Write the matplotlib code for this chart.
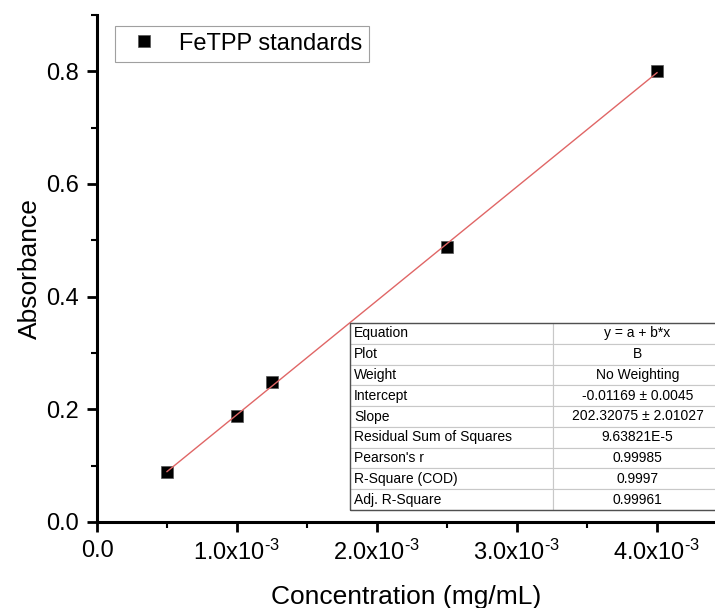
import matplotlib
matplotlib.use("Agg")
from matplotlib import pyplot as plt
from matplotlib.ticker import MultipleLocator, FuncFormatter
from matplotlib.patches import Rectangle
import numpy as np

plt.rcParams['font.family'] = ['Liberation Sans', 'DejaVu Sans']
plt.rcParams['mathtext.fontset'] = 'custom'
plt.rcParams['mathtext.rm'] = 'Liberation Sans'

# standards
conc = [0.5e-3, 1.0e-3, 1.25e-3, 2.5e-3, 4.0e-3]
absorb = [0.089, 0.188, 0.249, 0.489, 0.800]

# linear fit result
intercept = -0.01169
slope = 202.32075

fit_rows = ["Equation", "Plot", "Weight", "Intercept", "Slope",
            "Residual Sum of Squares", "Pearson's r", "R-Square (COD)",
            "Adj. R-Square"]
fit_vals = ["y = a + b*x", "B", "No Weighting", "-0.01169 \u00b1 0.0045",
            "202.32075 \u00b1 2.01027", "9.63821E-5", "0.99985", "0.9997",
            "0.99961"]


def fmt_x(v, pos):
    if abs(v) < 1e-12:
        return "0.0"
    return r"$\mathregular{%.1fx10^{\text{-}3}}$" % (v * 1e3)


fig = plt.figure(figsize=(7.15, 6.08), dpi=100)
ax = fig.add_axes([97 / 715, 1 - 522 / 608, 618 / 715, 507 / 608])

xf = np.array([conc[0], conc[-1]])
ax.plot(xf, intercept + slope * xf, color='#e06666', lw=1.0, zorder=3)
ax.plot(conc, absorb, 's', color='black', markersize=8.5,
        markeredgecolor='#555555', markeredgewidth=0.5,
        label='FeTPP standards', zorder=2)

ax.set_xlim(0, 618 / 140 * 1e-3)
ax.set_ylim(0, 0.9)
ax.xaxis.set_major_locator(MultipleLocator(1e-3))
ax.xaxis.set_minor_locator(MultipleLocator(0.5e-3))
ax.yaxis.set_major_locator(MultipleLocator(0.2))
ax.yaxis.set_minor_locator(MultipleLocator(0.1))
ax.xaxis.set_major_formatter(FuncFormatter(fmt_x))
ax.yaxis.set_major_formatter(FuncFormatter(lambda v, p: "%.1f" % v))

for s in ['top', 'right']:
    ax.spines[s].set_visible(False)
for s in ['left', 'bottom']:
    ax.spines[s].set_linewidth(2.2)
ax.tick_params(which='major', length=7, width=2, labelsize=17, direction='out', pad=6)
ax.tick_params(which='minor', length=4, width=1.5, direction='out')

ax.set_xlabel('Concentration (mg/mL)', fontsize=19, labelpad=14)
ax.set_ylabel('Absorbance', fontsize=19, labelpad=3)

leg = ax.legend(loc='upper left', bbox_to_anchor=(0.029, 0.979), fontsize=17,
                frameon=True, fancybox=False, edgecolor='#888888',
                handletextpad=0.5, borderpad=0.3, handlelength=1.9,
                borderaxespad=0)
leg.get_frame().set_linewidth(0.8)

cells = [[r, v] for r, v in zip(fit_rows, fit_vals)]
tb = ax.table(cellText=cells, colWidths=[0.546, 0.454],
              bbox=[(350 - 97) / 618, (522 - 510) / 507,
                    (722 - 350) / 618, (510 - 323) / 507])
tb.auto_set_font_size(False)
tb.set_fontsize(10)
for (r, c), cell in tb.get_celld().items():
    cell.set_edgecolor('#c8c8c8')
    cell.set_linewidth(0.8)
    if c == 0:
        cell.get_text().set_ha('left')
        cell.PAD = 0.02
    else:
        cell.get_text().set_ha('center')
tb.set_clip_on(False)
# dark outer frame
ax.add_patch(Rectangle(((350 - 97) / 618, (522 - 510) / 507),
                       (722 - 350) / 618, (510 - 323) / 507,
                       transform=ax.transAxes, fill=False,
                       edgecolor='#505050', lw=1.0, clip_on=False, zorder=5))

fig.savefig('out.png', dpi=100)
